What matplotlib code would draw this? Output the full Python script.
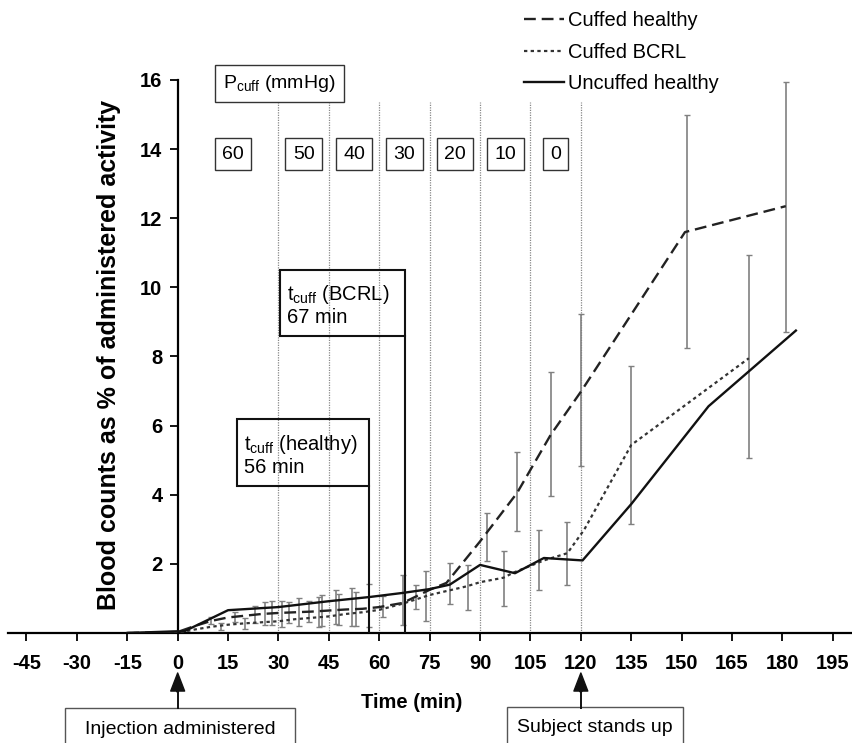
import matplotlib.pyplot as plt
from matplotlib.lines import Line2D
from matplotlib.patches import Rectangle, FancyArrow
from matplotlib.transforms import blended_transform_factory

plt.rcParams['font.family'] = ['Liberation Sans', 'DejaVu Sans']
plt.rcParams['axes.unicode_minus'] = False

# Cuffed healthy (dashed)
ch_t = [-15, 0, 5, 10, 15, 20, 25, 30, 35, 40, 45, 50, 55, 60, 67, 75, 80, 90, 101, 111, 120, 151, 181]
ch_y = [0, 0.03, 0.2, 0.35, 0.45, 0.5, 0.55, 0.58, 0.6, 0.62, 0.65, 0.68, 0.7, 0.75, 0.87, 1.25, 1.45, 2.65, 4.05, 5.73, 6.98, 11.6, 12.35]
ch_err_t = [10, 17, 23, 28, 33, 39, 43, 48, 53, 61, 71, 81, 92, 101, 111, 120, 151.6, 181]
ch_err_m = [0.35, 0.47, 0.53, 0.57, 0.6, 0.62, 0.65, 0.68, 0.7, 0.77, 1.05, 1.43, 2.77, 4.1, 5.75, 7.04, 11.63, 12.33]
ch_err_e = [0.1, 0.15, 0.25, 0.35, 0.3, 0.3, 0.45, 0.45, 0.5, 0.3, 0.35, 0.6, 0.7, 1.14, 1.8, 2.2, 3.37, 3.62]

# Cuffed BCRL (dotted)
cb_t = [-15, 0, 5, 10, 15, 20, 25, 30, 35, 40, 45, 50, 55, 60, 67, 75, 86, 90, 97, 100, 109, 116, 121, 135, 170]
cb_y = [0, 0.0, 0.1, 0.18, 0.24, 0.28, 0.31, 0.34, 0.4, 0.44, 0.48, 0.55, 0.6, 0.67, 0.85, 1.1, 1.35, 1.47, 1.6, 1.75, 2.1, 2.31, 2.99, 5.44, 7.95]
cb_err_t = [13, 20, 26, 31, 36, 42, 47, 52, 57, 67, 74, 86.4, 97, 116, 135, 170]
cb_err_m = [0.2, 0.28, 0.56, 0.55, 0.6, 0.6, 0.75, 0.75, 0.8, 0.96, 1.06, 1.32, 1.57, 2.3, 5.44, 7.99]
cb_err_e = [0.1, 0.15, 0.34, 0.38, 0.4, 0.43, 0.5, 0.55, 0.62, 0.72, 0.72, 0.65, 0.8, 0.92, 2.29, 2.94]

# Uncuffed healthy (solid)
uh_t = [-15, 0, 2, 15, 30, 45, 57, 67, 75, 81, 90, 100.4, 109, 120.5, 135, 158, 170, 184]
uh_y = [0, 0.05, 0.05, 0.66, 0.75, 0.92, 1.04, 1.16, 1.27, 1.4, 1.97, 1.73, 2.17, 2.1, 3.73, 6.56, 7.57, 8.75]
uh_err_t = [107.4]
uh_err_m = [2.12]
uh_err_e = [0.87]

xticks = list(range(-45, 196, 15))
yticks = [2, 4, 6, 8, 10, 12, 14, 16]
cuff_lines = [30, 45, 60, 75, 90, 105, 120]
pressures = ['60', '50', '40', '30', '20', '10', '0']
pressure_pos = [16.5, 37.5, 52.5, 67.5, 82.5, 97.5, 112.5]
events = [0, 120]

fig = plt.figure(figsize=(8.53, 7.43), dpi=100)
ax = fig.add_axes([8/853, 110/743, 845/853, 553/743])
ax.set_xlim(-50.5, 201)
ax.set_ylim(0, 16)

for xv in cuff_lines:
    ax.plot([xv, xv], [0, 15.35], color='#888888', lw=0.9, ls=(0, (1, 1)), zorder=1)

ebkw = dict(fmt='none', ecolor='#808080', elinewidth=1.2, capsize=2.5, capthick=1.0, zorder=2)
ax.errorbar(ch_err_t, ch_err_m, yerr=ch_err_e, **ebkw)
ax.errorbar(cb_err_t, cb_err_m, yerr=cb_err_e, **ebkw)
ax.errorbar(uh_err_t, uh_err_m, yerr=uh_err_e, **ebkw)

ax.plot(ch_t, ch_y, color='#222222', lw=1.7, ls=(0, (5, 2.5)), zorder=3)
ax.plot(cb_t, cb_y, color='#333333', lw=1.6, ls=(0, (1.5, 1.5)), zorder=3)
ax.plot(uh_t, uh_y, color='#111111', lw=1.7, zorder=3)

# pressure boxes
for p, xp in zip(pressures, pressure_pos):
    ax.text(xp, 13.85, p, ha='center', va='center', fontsize=14,
            bbox=dict(boxstyle='square,pad=0.38', fc='white', ec='#333333', lw=1.0), zorder=4)
ax.text(30.3, 15.9, r'P$_{\mathregular{cuff}}$ (mmHg)', ha='center', va='center', fontsize=14,
        bbox=dict(boxstyle='square,pad=0.42', fc='white', ec='#333333', lw=1.0), zorder=4, clip_on=False)

# t_cuff boxes
ax.add_patch(Rectangle((30.4, 8.58), 67.6 - 30.4, 10.5 - 8.58, fill=False, ec='#111111', lw=1.5, zorder=4))
ax.plot([67.6, 67.6], [0, 8.58], color='#111111', lw=1.5, zorder=4)
ax.text(32.4, 9.5, r't$_{\mathregular{cuff}}$ (BCRL)' + '\n67 min', ha='left', va='center', fontsize=14.5,
        linespacing=1.15, zorder=5)
ax.add_patch(Rectangle((17.6, 4.25), 56.8 - 17.6, 6.18 - 4.25, fill=False, ec='#111111', lw=1.5, zorder=4))
ax.plot([56.8, 56.8], [0, 4.25], color='#111111', lw=1.5, zorder=4)
ax.text(19.6, 5.15, r't$_{\mathregular{cuff}}$ (healthy)' + '\n56 min', ha='left', va='center', fontsize=14.5,
        linespacing=1.15, zorder=5)

# spines and ticks
for s in ['top', 'right']:
    ax.spines[s].set_visible(False)
ax.spines['left'].set_position(('data', 0))
ax.spines['left'].set_linewidth(1.6)
ax.spines['bottom'].set_linewidth(1.6)
ax.set_xticks(xticks)
ax.set_yticks(yticks)
ax.tick_params(axis='both', direction='out', length=6, width=1.3, labelsize=14.5)
ax.tick_params(axis='x', pad=9)
ax.tick_params(axis='y', pad=5)
for lab in ax.get_xticklabels() + ax.get_yticklabels():
    lab.set_fontweight('bold')

ax.set_xlabel('Time (min)', fontsize=14.5, fontweight='bold')
ax.xaxis.set_label_coords(0.478, -0.108)
ax.set_ylabel('Blood counts as % of administered activity', fontsize=18, fontweight='bold')
ax.yaxis.set_label_coords(0.134, 0.503)

# legend
handles = [Line2D([], [], color='#222222', lw=1.7, ls=(0, (5, 2.5))),
           Line2D([], [], color='#333333', lw=1.6, ls=(0, (1.5, 1.5))),
           Line2D([], [], color='#111111', lw=1.7)]
fig.legend(handles, ['Cuffed healthy', 'Cuffed BCRL', 'Uncuffed healthy'],
           loc='upper left', bbox_to_anchor=(506/853, 1 + 7/743), frameon=False,
           fontsize=14.5, handlelength=2.0, handletextpad=0.2, labelspacing=0.62)

# bottom annotations: arrows up to the event times (x in data, y in figure fraction)
trans = blended_transform_factory(ax.transData, fig.transFigure)
for ev in events:
    fig.add_artist(Line2D([ev, ev], [1 - 709/743, 1 - 688/743], transform=trans,
                          color='#111111', lw=1.4, solid_capstyle='butt'))
    ax.annotate('', xy=(ev, 1 - 673/743), xytext=(ev, 1 - 692/743),
                xycoords=trans, textcoords=trans, annotation_clip=False,
                arrowprops=dict(width=0.9, headwidth=10, headlength=13, color='#111111', shrink=0))
fig.patches.append(Rectangle((65/853, -5/743), 230/853, 40/743, transform=fig.transFigure,
                             fill=False, ec='#555555', lw=1.0))
fig.text(180/853, 1 - 729/743, 'Injection administered', ha='center', va='center', fontsize=14)
fig.patches.append(Rectangle((507/853, -5/743), 176/853, 41/743, transform=fig.transFigure,
                             fill=False, ec='#555555', lw=1.0))
fig.text(595/853, 1 - 727/743, 'Subject stands up', ha='center', va='center', fontsize=14)

fig.savefig('out.png', dpi=100)
